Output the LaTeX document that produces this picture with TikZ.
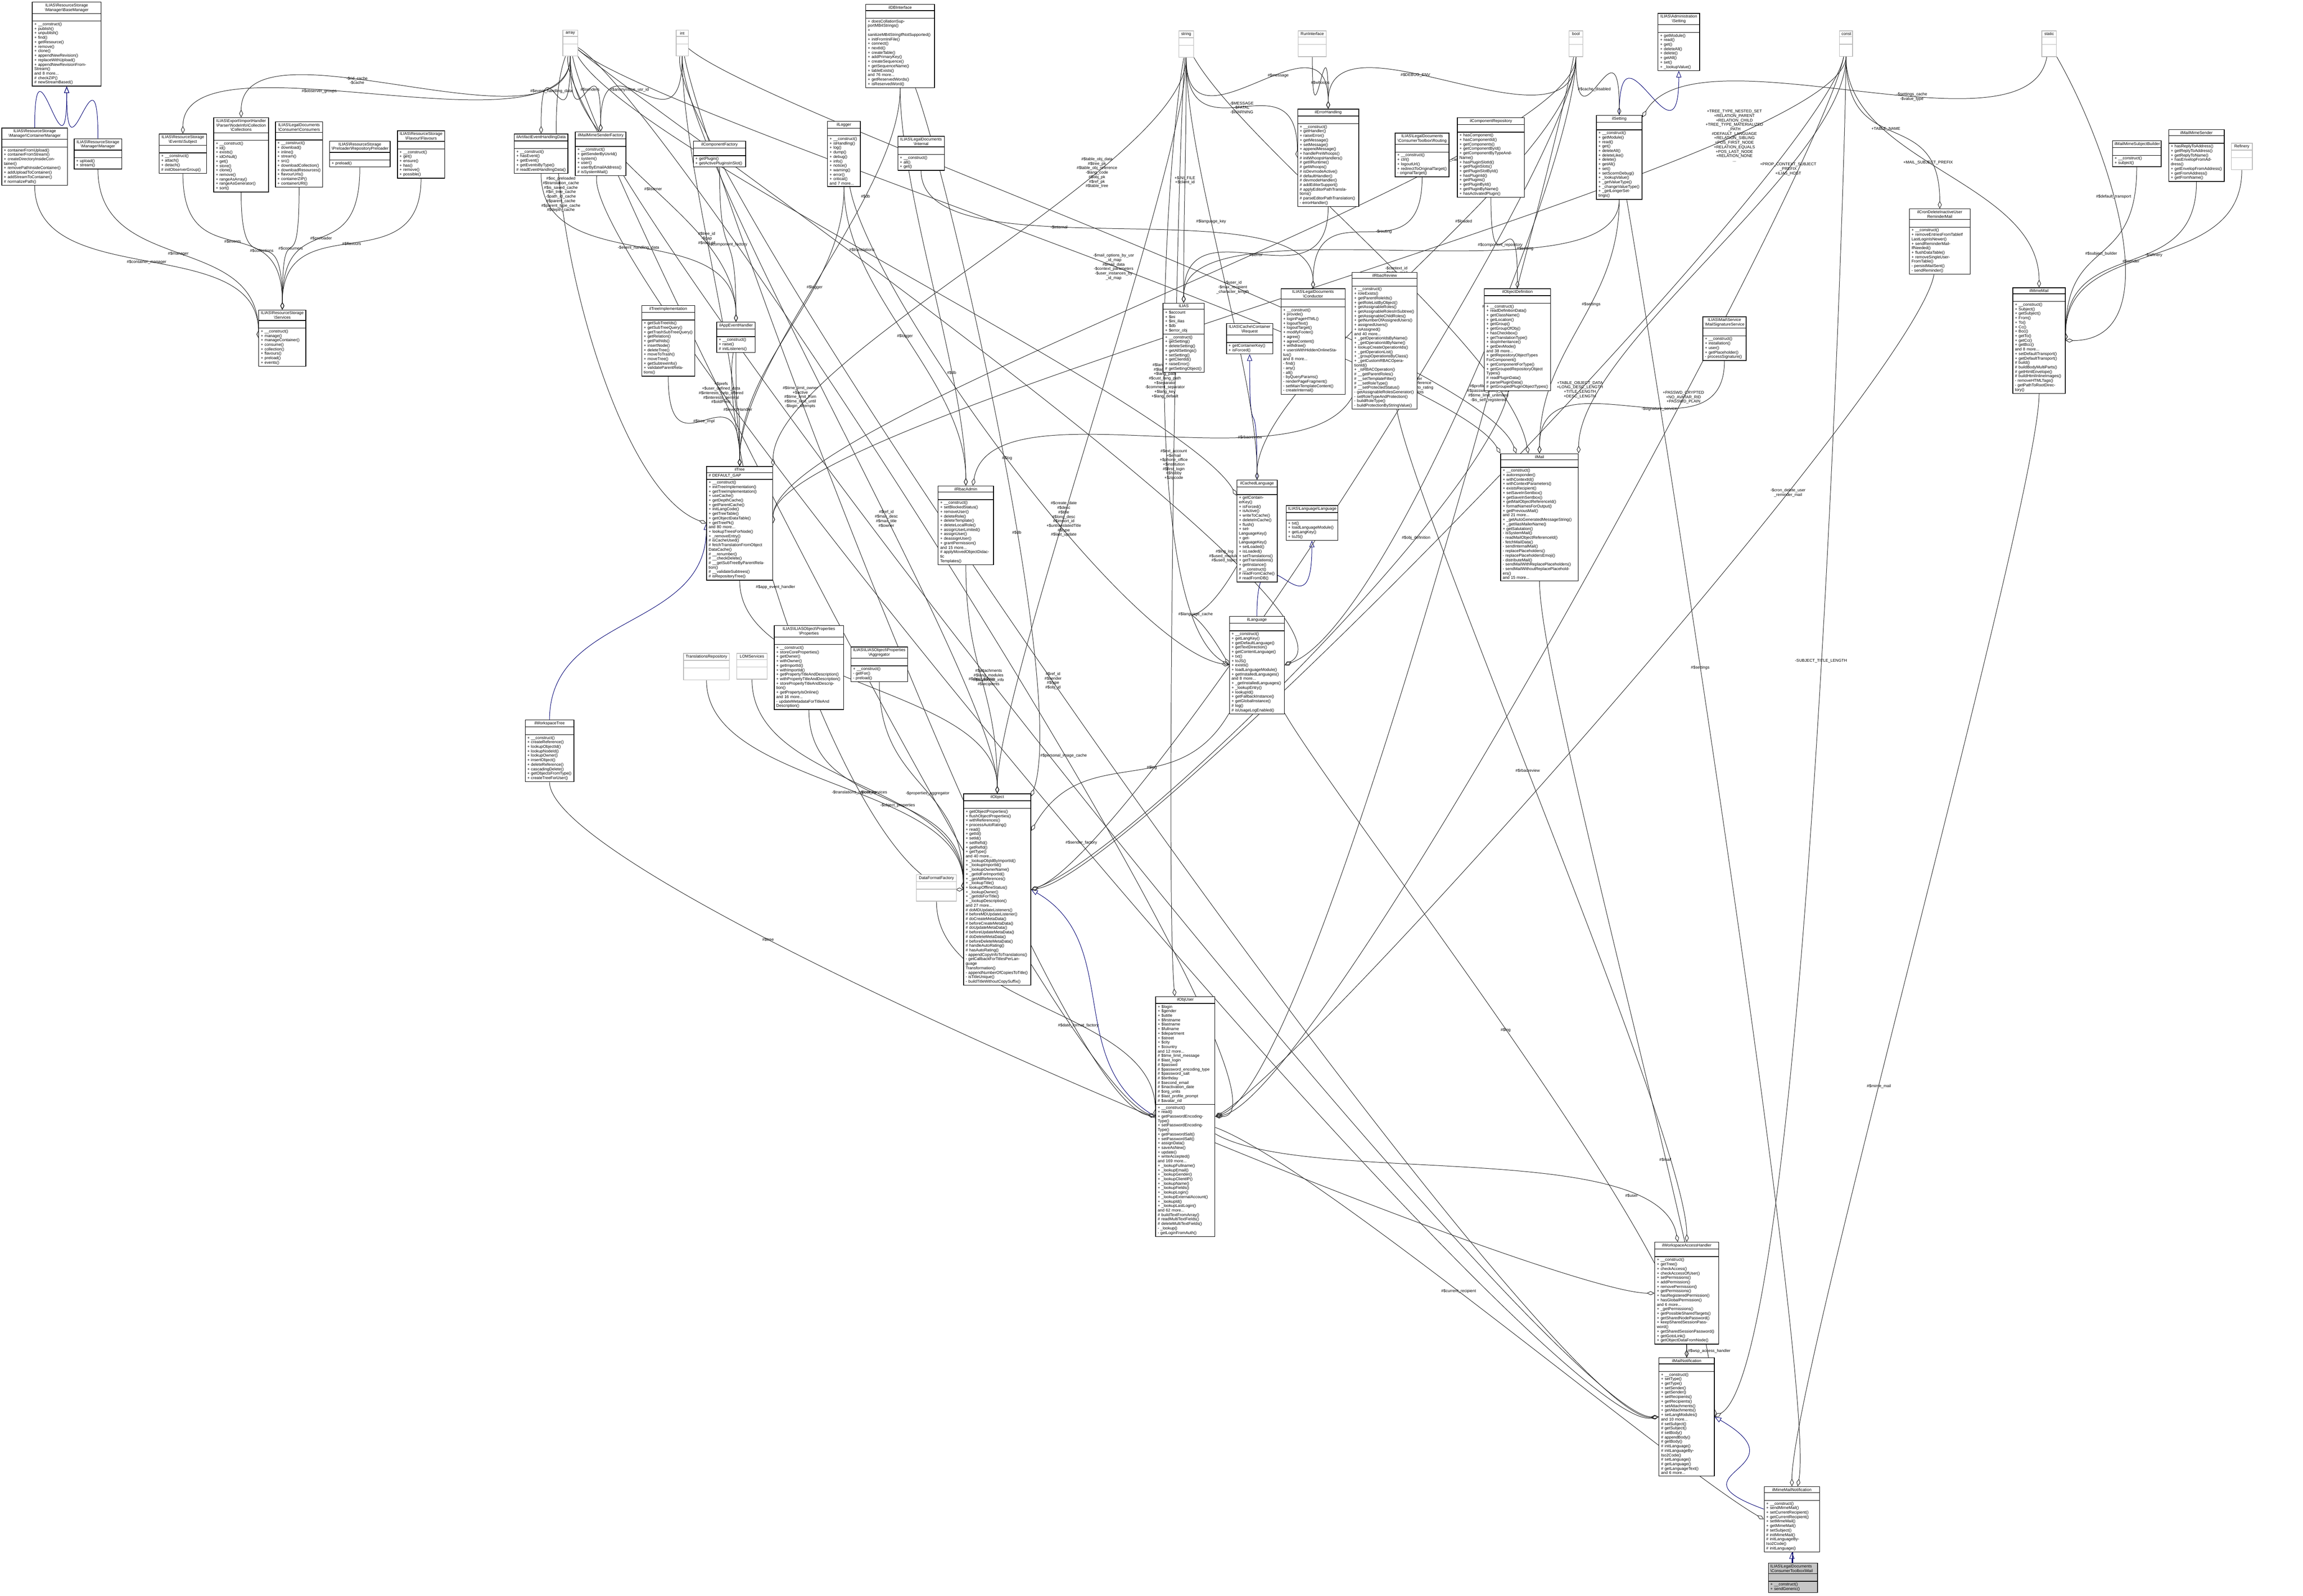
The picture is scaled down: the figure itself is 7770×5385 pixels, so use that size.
\documentclass[tikz,border=0pt]{standalone}
\usepackage{fontspec}
\setmainfont{Liberation Sans}
\usetikzlibrary{shapes.multipart,arrows.meta}
\pgfdeclarelayer{bg}
\pgfsetlayers{bg,main}
\newcommand{\umlsize}{\fontsize{0.975}{1.075}\selectfont}
\newcommand{\bsl}{\textbackslash{}}
\tikzset{
  umlcls/.style={draw, line width=0.15pt, fill=white, rectangle split, rectangle split parts=3,
    inner xsep=0.5pt, inner ysep=0.3pt, font=\umlsize, align=left},
  typecls/.style={umlcls, draw=gray!55},
  agg/.style={line width=0.11pt, draw=black!85, -{Diamond[open,length=0.065cm,width=0.033cm]}},
  inh/.style={line width=0.11pt, draw=blue!45!black, -{Triangle[open,length=0.055cm,width=0.043cm]}},
  lbl/.style={font=\umlsize, align=center, inner sep=0.25pt},
  vv/.style={out=-90, in=90},
  uu/.style={out=90, in=-90},
  every to/.append style={distance=0.9cm}
}
% class box: name, x, y (top), width, title, attributes, methods
\newcommand{\umlclass}[7]{%
  \pgfmathsetlengthmacro\clsw{(#4)*0.0025cm-1pt}%
  \node[umlcls, text width=\clsw, anchor=north west] (#1) at (#2,#3)
    {\centering #5\par\nodepart{second}#6\nodepart{third}#7};}
\newcommand{\umltype}[5]{%
  \pgfmathsetlengthmacro\clsw{(#4)*0.0025cm-1pt}%
  \node[typecls, text width=\clsw, anchor=north west] (#1) at (#2,#3)
    {\centering #5\par\nodepart{second}\strut\nodepart{third}\strut\\\strut};}

\begin{document}
\catcode`\_=12
\begin{tikzpicture}[x=0.0025cm, y=-0.0025cm]
\useasboundingbox (0,0) rectangle (7770,5385);

% primitive types
\umltype{arr}{1898}{101}{50}{array}
\umltype{int}{2280}{101}{41}{int}
\umltype{str}{3976}{103}{50}{string}
\umltype{run}{4379}{103}{95}{RunInterface}
\umltype{bool}{5293}{103}{46}{bool}
\umltype{cnst}{6205}{103}{44}{const}
\umltype{stat}{6888}{103}{49}{static}
\umltype{refi}{7527}{482}{71}{Refinery}
\umltype{trep}{2305}{2204}{155}{TranslationsRepository}
\umltype{lom}{2485}{2204}{102}{LOMServices}
\umltype{dff}{3091}{2951}{135}{DataFormatFactory}

% resource storage
\umlclass{bm}{108}{6}{232}{ILIAS\bsl ResourceStorage\\\bsl Manager\bsl BaseManager}{\strut}{+ __construct()\\+ publish()\\+ unpublish()\\+ find()\\+ getResource()\\+ remove()\\+ clone()\\+ appendNewRevision()\\+ replaceWithUpload()\\+ appendNewRevisionFromStream()\\and 8 more...\\\# checkZIP()\\\# newStreamBased()}
\umlclass{cm}{5}{431}{222}{ILIAS\bsl ResourceStorage\\\bsl Manager\bsl ContainerManager}{\strut}{+ containerFromUpload()\\+ containerFromStream()\\+ createDirectoryInsideContainer()\\+ removePathInsideContainer()\\+ addUploadToContainer()\\+ addStreamToContainer()\\\# normalizePath()}
\umlclass{mgr}{249}{467}{161}{ILIAS\bsl ResourceStorage\\\bsl Manager\bsl Manager}{\strut}{+ upload()\\+ stream()}
\umlclass{evs}{536}{451}{160}{ILIAS\bsl ResourceStorage\\\bsl Events\bsl Subject}{\strut}{+ __construct()\\+ attach()\\+ detach()\\\# initObserverGroup()}
\umlclass{coll}{720}{396}{185}{ILIAS\bsl Export\bsl ImportHandler\\\bsl Parser\bsl NodeInfo\bsl Collection\\\bsl Collections}{\strut}{+ __construct()\\+ id()\\+ exists()\\+ idOrNull()\\+ get()\\+ store()\\+ clone()\\+ remove()\\+ rangeAsArray()\\+ rangeAsGenerator()\\+ sort()}
\umlclass{cons}{928}{410}{160}{ILIAS\bsl LegalDocuments\\\bsl Consumer\bsl Consumers}{\strut}{+ __construct()\\+ download()\\+ inline()\\+ stream()\\+ src()\\+ downloadCollection()\\+ downloadResources()\\+ flavourUrls()\\+ containerZIP()\\+ containerURI()}
\umlclass{prel}{1111}{475}{204}{ILIAS\bsl ResourceStorage\\\bsl Preloader\bsl RepositoryPreloader}{\strut}{+ preload()}
\umlclass{flav}{1340}{440}{159}{ILIAS\bsl ResourceStorage\\\bsl Flavour\bsl Flavours}{\strut}{+ __construct()\\+ get()\\+ ensure()\\+ has()\\+ remove()\\+ possible()}
\umlclass{srv}{872}{1045}{159}{ILIAS\bsl ResourceStorage\\\bsl Services}{\strut}{+ __construct()\\+ manage()\\+ manageContainer()\\+ consume()\\+ collection()\\+ flavours()\\+ preload()\\+ events()}

% events, tree
\umlclass{aehd}{1734}{451}{181}{ilArtifactEventHandlingData}{\strut}{+ __construct()\\+ hasEvent()\\+ getEvent()\\+ getEventsByType()\\\# readEventHandlingData()}
\umlclass{msf}{1940}{444}{171}{ilMailMimeSenderFactory}{\strut}{+ __construct()\\+ getSenderByUsrId()\\+ system()\\+ user()\\+ userByEmailAddress()\\\# isSystemMail()}
\umlclass{cf}{2338}{475}{177}{ilComponentFactory}{\strut}{+ getPlugin()\\+ getActivePluginsInSlot()}
\umlclass{timpl}{2164}{1030}{179}{ilTreeImplementation}{\strut}{+ getSubTreeIds()\\+ getSubTreeQuery()\\+ getTrashSubTreeQuery()\\+ getRelation()\\+ getPathIds()\\+ insertNode()\\+ deleteTree()\\+ moveToTrash()\\+ moveTree()\\+ getSubtreeInfo()\\+ validateParentRelations()}
\umlclass{aeh}{2417}{1086}{130}{ilAppEventHandler}{\strut}{+ __construct()\\+ raise()\\\# initListeners()}
\umlclass{tree}{2383}{1573}{223}{ilTree}{\# DEFAULT_GAP}{+ __construct()\\+ initTreeImplementation()\\+ getTreeImplementation()\\+ useCache()\\+ getDepthCache()\\+ getParentCache()\\+ initLangCode()\\+ getTreeTable()\\+ getObjectDataTable()\\+ getTreePk()\\and 80 more...\\+ lookupTreesForNode()\\+ _removeEntry()\\\# isCacheUsed()\\\# fetchTranslationFromObject\\DataCache()\\\# __renumber()\\\# __checkDelete()\\\# __getSubTreeByParentRelation()\\\# __validateSubtrees()\\\# isRepositoryTree()}
\umlclass{wtree}{1771}{2429}{164}{ilWorkspaceTree}{\strut}{+ __construct()\\+ createReference()\\+ lookupObjectId()\\+ lookupNodeId()\\+ lookupOwner()\\+ insertObject()\\+ deleteReference()\\+ cascadingDelete()\\+ getObjectsFromType()\\+ createTreeForUser()}

% core services
\umlclass{db}{2920}{14}{232}{ilDBInterface}{\strut}{+ doesCollationSupportMB4Strings()\\+ sanitizeMB4StringIfNotSupported()\\+ initFromIniFile()\\+ connect()\\+ nextId()\\+ createTable()\\+ addPrimaryKey()\\+ createSequence()\\+ getSequenceName()\\+ tableExists()\\and 76 more...\\+ getReservedWords()\\+ isReservedWord()}
\umlclass{log}{2791}{408}{111}{ilLogger}{\strut}{+ __construct()\\+ isHandling()\\+ log()\\+ dump()\\+ debug()\\+ info()\\+ notice()\\+ warning()\\+ error()\\+ critical()\\and 7 more...}
\umlclass{ldi}{3028}{459}{157}{ILIAS\bsl LegalDocuments\\\bsl Internal}{\strut}{+ __construct()\\+ all()\\+ get()}
\umlclass{err}{4377}{367}{206}{ilErrorHandling}{\strut}{+ __construct()\\+ getHandler()\\+ raiseError()\\+ getMessage()\\+ setMessage()\\+ appendMessage()\\+ handlePreWhoops()\\\# initWhoopsHandlers()\\\# getIlRuntime()\\\# getWhoops()\\\# isDevmodeActive()\\\# defaultHandler()\\\# devmodeHandler()\\\# addEditorSupport()\\\# applyEditorPathTranslations()\\\# parseEditorPathTranslation()\\- errorHandler()}
\umlclass{rout}{4706}{448}{182}{ILIAS\bsl LegalDocuments\\\bsl ConsumerToolbox\bsl Routing}{\strut}{+ __construct()\\+ ctrl()\\+ logoutUrl()\\+ redirectToOriginalTarget()\\- originalTarget()}
\umlclass{crep}{4916}{396}{226}{ilComponentRepository}{\strut}{+ hasComponent()\\+ hasComponentId()\\+ getComponents()\\+ getComponentById()\\+ getComponentByTypeAndName()\\+ hasPluginSlotId()\\+ getPluginSlots()\\+ getPluginSlotById()\\+ hasPluginId()\\+ getPlugins()\\+ getPluginById()\\+ getPluginByName()\\+ hasActivatedPlugin()}
\umlclass{ilias}{3923}{1022}{139}{ILIAS}{+ \$account\\+ \$ini\\+ \$ini_ilias\\+ \$db\\+ \$error_obj}{+ __construct()\\+ getSetting()\\+ deleteSetting()\\+ getAllSettings()\\+ setSetting()\\+ getClientId()\\+ raiseError()\\\# getSettingObject()}
\umlclass{creq}{4137}{1091}{156}{ILIAS\bsl Cache\bsl Container\\\bsl Request}{\strut}{+ getContainerKey()\\+ isForced()}
\umlclass{cond}{4321}{973}{216}{ILIAS\bsl LegalDocuments\\\bsl Conductor}{\strut}{+ __construct()\\+ provide()\\+ loginPageHTML()\\+ logoutText()\\+ logoutTarget()\\+ modifyFooter()\\+ agree()\\+ agreeContent()\\+ withdraw()\\+ usersWithHiddenOnlineStatus()\\and 8 more...\\- find()\\- any()\\- all()\\- byQueryParams()\\- renderPageFragment()\\- setMainTemplateContent()\\- createInternal()}
\umlclass{rrev}{4561}{918}{219}{ilRbacReview}{\strut}{+ __construct()\\+ roleExists()\\+ getParentRoleIds()\\+ getRoleListByObject()\\+ getAssignableRoles()\\+ getAssignableRolesInSubtree()\\+ getAssignableChildRoles()\\+ getNumberOfAssignedUsers()\\+ assignedUsers()\\+ isAssigned()\\and 40 more...\\+ _getOperationIdsByName()\\+ _getOperationIdByName()\\+ lookupCreateOperationIds()\\+ _getOperationList()\\+ _groupOperationsByClass()\\+ _getCustomRBACOperationId()\\+ _isRBACOperation()\\\# __getParentRoles()\\\# __setTemplateFilter()\\\# __setRoleType()\\\# __setProtectedStatus()\\- getAssignableRolesGenerator()\\- setRoleTypeAndProtection()\\- buildRoleType()\\- buildProtectionByStringValue()}
\umlclass{odef}{5007}{973}{223}{ilObjectDefinition}{\strut}{+ __construct()\\+ readDefinitionData()\\+ getClassName()\\+ getLocation()\\+ getGroup()\\+ getGroupOfObj()\\+ hasCheckbox()\\+ getTranslationType()\\+ stopInheritance()\\+ getDevMode()\\and 38 more...\\+ getRepositoryObjectTypes\\ForComponent()\\+ getComponentForType()\\+ getGroupedRepositoryObject\\Types()\\\# readPluginData()\\\# parsePluginData()\\\# getGroupedPluginObjectTypes()}
\umlclass{radm}{3164}{1639}{187}{ilRbacAdmin}{\strut}{+ __construct()\\+ setBlockedStatus()\\+ removeUser()\\+ deleteRole()\\+ deleteTemplate()\\+ deleteLocalRole()\\+ assignUserLimited()\\+ assignUser()\\+ deassignUser()\\+ grantPermission()\\and 15 more...\\\# applyMovedObjectDidactic\\Templates()}
\umlclass{clang}{4172}{1619}{136}{ilCachedLanguage}{\strut}{+ getContainerKey()\\+ isForced()\\+ isActive()\\+ writeToCache()\\+ deleteInCache()\\+ flush()\\+ setLanguageKey()\\+ getLanguageKey()\\+ setLoaded()\\+ isLoaded()\\+ setTranslations()\\+ getTranslations()\\+ getInstance()\\\# __construct()\\\# readFromCache()\\\# readFromDB()}
\umlclass{llang}{4338}{1705}{174}{ILIAS\bsl Language\bsl Language}{\strut}{+ txt()\\+ loadLanguageModule()\\+ getLangKey()\\+ toJS()}
\umlclass{lang}{4147}{2079}{185}{ilLanguage}{\strut}{+ __construct()\\+ getLangKey()\\+ getDefaultLanguage()\\+ getTextDirection()\\+ getContentLanguage()\\+ txt()\\+ toJS()\\+ exists()\\+ loadLanguageModule()\\+ getInstalledLanguages()\\and 8 more...\\+ _getInstalledLanguages()\\+ _lookupEntry()\\+ lookupId()\\+ getFallbackInstance()\\+ getGlobalInstance()\\\# log()\\\# isUsageLogEnabled()}

% mail and settings
\umlclass{mail}{5062}{1530}{262}{ilMail}{\strut}{+ __construct()\\+ autoresponder()\\+ withContextId()\\+ withContextParameters()\\+ existsRecipient()\\+ setSaveInSentbox()\\+ getSaveInSentbox()\\+ getMailObjectReferenceId()\\+ formatNamesForOutput()\\+ getPreviousMail()\\and 21 more...\\+ _getAutoGeneratedMessageString()\\+ _getIliasMailerName()\\+ getSalutation()\\- isSystemMail()\\- readMailObjectReferenceId()\\- fetchMailData()\\- sendInternalMail()\\- replacePlaceholders()\\- replacePlaceholdersEmoji()\\- distributeMail()\\- sendMailWithReplacePlaceholders()\\- sendMailWithoutReplacePlaceholders()\\and 15 more...}
\umlclass{aset}{5593}{44}{140}{ILIAS\bsl Administration\\\bsl Setting}{\strut}{+ getModule()\\+ read()\\+ get()\\+ deleteAll()\\+ delete()\\+ getAll()\\+ set()\\+ _lookupValue()}
\umlclass{set}{5385}{388}{154}{ilSetting}{\strut}{+ __construct()\\+ getModule()\\+ read()\\+ get()\\+ deleteAll()\\+ deleteLike()\\+ delete()\\+ getAll()\\+ set()\\+ setScormDebug()\\+ _lookupValue()\\+ _getValueType()\\+ _changeValueType()\\+ _getLongerSettings()}
\umlclass{cron}{6441}{704}{205}{ilCronDeleteInactiveUser\\ReminderMail}{\strut}{+ __construct()\\+ removeEntriesFromTableIf\\LastLoginIsNewer()\\+ sendReminderMailIfNeeded()\\+ flushDataTable()\\+ removeSingleUserFromTable()\\- persistMailSent()\\- sendReminder()}
\umlclass{msig}{5744}{1068}{146}{ILIAS\bsl Mail\bsl Service\\\bsl MailSignatureService}{\strut}{+ __construct()\\+ installation()\\+ user()\\+ getPlaceholder()\\- processSignature()}
\umlclass{msb}{7126}{474}{164}{ilMailMimeSubjectBuilder}{\strut}{+ __construct()\\+ subject()}
\umlclass{mms}{7316}{436}{187}{ilMailMimeSender}{\strut}{+ hasReplyToAddress()\\+ getReplyToAddress()\\+ getReplyToName()\\+ hasEnvelopFromAddress()\\+ getEnvelopFromAddress()\\+ getFromAddress()\\+ getFromName()}
\umlclass{mime}{6790}{970}{177}{ilMimeMail}{\strut}{+ __construct()\\+ Subject()\\+ getSubject()\\+ From()\\+ To()\\+ Cc()\\+ Bcc()\\+ getTo()\\+ getCc()\\+ getBcc()\\and 8 more...\\+ setDefaultTransport()\\+ getDefaultTransport()\\\# build()\\\# buildBodyMultiParts()\\\# getHtmlEnvelope()\\\# buildHtmlInlineImages()\\- removeHTMLTags()\\- getPathToRootDirectory()}

% objects
\umlclass{prop}{2611}{2110}{234}{ILIAS\bsl ILIASObject\bsl Properties\\\bsl Properties}{\strut}{+ __construct()\\+ storeCoreProperties()\\+ getOwner()\\+ withOwner()\\+ getImportId()\\+ withImportId()\\+ getPropertyTitleAndDescription()\\+ withPropertyTitleAndDescription()\\+ storePropertyTitleAndDescription()\\+ getPropertyIsOnline()\\and 16 more...\\- updateMetadataForTitleAnd\\Description()}
\umlclass{aggr}{2870}{2182}{191}{ILIAS\bsl ILIASObject\bsl Properties\\\bsl Aggregator}{\strut}{+ __construct()\\- getFor()\\- preload()}
\umlclass{obj}{3250}{2678}{227}{ilObject}{\strut}{+ getObjectProperties()\\+ flushObjectProperties()\\+ withReferences()\\+ processAutoRating()\\+ read()\\+ getId()\\+ setId()\\+ setRefId()\\+ getRefId()\\+ getType()\\and 40 more...\\+ _lookupObjIdByImportId()\\+ _lookupImportId()\\+ _lookupOwnerName()\\+ _getIdForImportId()\\+ _getAllReferences()\\+ _lookupTitle()\\+ lookupOfflineStatus()\\+ _lookupOwner()\\+ _getIdsForTitle()\\+ _lookupDescription()\\and 27 more...\\\# doMDUpdateListeners()\\\# beforeMDUpdateListener()\\\# doCreateMetaData()\\\# beforeCreateMetaData()\\\# doUpdateMetaData()\\\# beforeUpdateMetaData()\\\# doDeleteMetaData()\\\# beforeDeleteMetaData()\\\# handleAutoRating()\\\# hasAutoRating()\\- appendCopyInfoToTranslations()\\- getCallbackForTitlesPerLanguage\\Transformation()\\- appendNumberOfCopiesToTitle()\\- isTitleUnique()\\- buildTitleWithoutCopySuffix()}
\umlclass{user}{3898}{3362}{200}{ilObjUser}{+ \$login\\+ \$gender\\+ \$utitle\\+ \$firstname\\+ \$lastname\\+ \$fullname\\+ \$department\\+ \$street\\+ \$city\\+ \$country\\and 12 more...\\\# \$time_limit_message\\\# \$last_login\\\# \$passwd\\\# \$password_encoding_type\\\# \$password_salt\\\# \$birthday\\\# \$second_email\\\# \$inactivation_date\\\# \$org_units\\\# \$last_profile_prompt\\\# \$avatar_rid}{+ __construct()\\+ read()\\+ getPasswordEncodingType()\\+ setPasswordEncodingType()\\+ getPasswordSalt()\\+ setPasswordSalt()\\+ assignData()\\+ saveAsNew()\\+ update()\\+ writeAccepted()\\and 169 more...\\+ _lookupFullname()\\+ _lookupEmail()\\+ _lookupGender()\\+ _lookupClientIP()\\+ _lookupName()\\+ _lookupFields()\\+ _lookupLogin()\\+ _lookupExternalAccount()\\+ _lookupId()\\+ _lookupLastLogin()\\and 62 more...\\\# buildTextFromArray()\\\# readMultiTextFields()\\\# deleteMultiTextFields()\\- _lookup()\\- getLoginFromAuth()}
\umlclass{wah}{5582}{4191}{216}{ilWorkspaceAccessHandler}{\strut}{+ __construct()\\+ getTree()\\+ checkAccess()\\+ checkAccessOfUser()\\+ setPermissions()\\+ addPermission()\\+ removePermission()\\+ getPermissions()\\+ hasRegisteredPermission()\\+ hasGlobalPermission()\\and 6 more...\\+ _getPermissions()\\+ getPossibleSharedTargets()\\+ getSharedNodePassword()\\+ keepSharedSessionPassword()\\+ getSharedSessionPassword()\\+ getGotoLink()\\+ getObjectDataFromNode()}
\umlclass{mn}{5596}{4581}{187}{ilMailNotification}{\strut}{+ __construct()\\+ setType()\\+ getType()\\+ setSender()\\+ getSender()\\+ setRecipients()\\+ getRecipients()\\+ setAttachments()\\+ getAttachments()\\+ setLangModules()\\and 10 more...\\\# setSubject()\\\# getSubject()\\\# setBody()\\\# appendBody()\\\# getBody()\\\# initLanguage()\\\# initLanguageByIso2Code()\\\# setLanguage()\\\# getLanguage()\\\# getLanguageText()\\and 6 more...}
\umlclass{mmn}{5951}{5016}{187}{ilMimeMailNotification}{\strut}{+ __construct()\\+ sendMimeMail()\\+ setCurrentRecipient()\\+ getCurrentRecipient()\\+ setMimeMail()\\+ getMimeMail()\\\# setSubject()\\\# initMimeMail()\\\# initLanguageByIso2Code()\\\# initLanguage()}
\node[umlcls, fill=gray!45, text width=0.38cm, anchor=north west] (ldmail) at (5965,5274)
  {ILIAS\bsl LegalDocuments\\\bsl ConsumerToolbox\bsl Mail\nodepart{second}\strut\nodepart{third}+ __construct()\\+ sendGeneric()};

\begin{pgfonlayer}{bg}
% inheritance
\draw[inh] (cm) to[uu] (bm);
\draw[inh] (mgr) to[uu] (bm);
\draw[inh] (clang) to[uu] (creq);
\draw[inh] (lang) to[uu] (llang);
\draw[inh] (set) to[uu] (aset);
\draw[inh] (wtree) to[uu] (tree.west);
\draw[inh] (user.west) to[out=150, in=-30] (obj.east);
\draw[inh] (mmn) to[out=160, in=-30] (mn.east);
\draw[inh] (ldmail) to[uu] (mmn);
% resource storage
\draw[agg] (cm) to[vv] node[lbl]{\#\$container_manager} (srv.west);
\draw[agg] (mgr) to[vv] node[lbl]{\#\$manager} (srv.west);
\draw[agg] (evs) to[vv] node[lbl]{\#\$events} (srv);
\draw[agg] (coll) to[vv] node[lbl]{\#\$collections} (srv);
\draw[agg] (cons) to[vv] node[lbl]{\#\$consumers} (srv);
\draw[agg] (prel) to[vv] node[lbl]{\#\$preloader} (srv);
\draw[agg] (flav) to[vv] node[lbl]{\#\$flavours} (srv);
\draw[agg] (arr) to[vv] node[lbl, pos=0.6]{\#\$observer_groups} (evs);
\draw[agg] (arr) to[vv] node[lbl, pos=0.6]{-\$rid_cache\\-\$cache} (coll);
% events and tree
\draw[agg] (arr) to[vv] node[lbl, pos=0.6]{\#\$event_handling_data} (aehd);
\draw[agg] (arr) to[vv] node[lbl, pos=0.6]{\#\$senders} (msf);
\draw[agg] (int) to[vv] node[lbl, pos=0.6]{\#\$anonymous_usr_id} (msf);
\draw[agg] (arr) to[out=-110, in=160] node[lbl, pos=0.3]{\#\$oc_preloaded\\\#\$translation_cache\\\#\$is_saved_cache\\\#\$in_tree_cache\\-\$path_id_cache\\\#\$parent_cache\\\#\$parent_type_cache\\\#\$depth_cache} (tree.west);
\draw[agg] (aehd) to[vv] node[lbl]{-\$event_handling_data} (aeh);
\draw[agg] (cf) to[vv] node[lbl]{\#\$component_factory} (aeh);
\draw[agg] (arr) to[vv] node[lbl, pos=0.5]{\#\$listener} (aeh);
\draw[agg] (timpl) to[vv] node[lbl]{\#\$tree_impl} (tree);
\draw[agg] (aeh) to[vv] node[lbl]{\#\$eventHandler} (tree);
\draw[agg] (int) to[vv] node[lbl, pos=0.45]{\#\$tree_id\\-\$gap\\\#\$root_id} (tree);
\draw[agg] (log) to[vv] node[lbl, pos=0.35]{\#\$logger} (tree);
\draw[agg] (db) to[vv] node[lbl, pos=0.3]{\#\$db} (tree);
\draw[agg] (str) to[vv] node[lbl, pos=0.3]{\#\$table_obj_data\\\#\$tree_pk\\\#\$table_obj_reference\\-\$lang_code\\\#\$obj_pk\\\#\$ref_pk\\\#\$table_tree} (tree.north east);
\draw[agg] (cnst) to[vv] node[lbl, pos=0.2]{+TREE_TYPE_NESTED_SET\\+RELATION_PARENT\\+RELATION_CHILD\\+TREE_TYPE_MATERIALIZED\\_PATH\\\#DEFAULT_LANGUAGE\\+RELATION_SIBLING\\+POS_FIRST_NODE\\+RELATION_EQUALS\\+POS_LAST_NODE\\+RELATION_NONE\\...} (tree.east);
\draw[agg] (bool) to[vv] node[lbl, pos=0.25]{\#\$use_cache} (tree.east);
% core
\draw[agg] (str) to[vv] node[lbl]{+\$INI_FILE\\+\$client_id} (ilias);
\draw[agg] (err) to[vv] node[lbl]{\#\$error} (ilias);
\draw[agg] (set) to[vv] node[lbl, pos=0.3]{\#\$setting} (ilias);
\draw[agg] (run) to[vv] node[lbl]{\#\$whoops} (err);
\draw[agg] (str) to[vv] node[lbl]{-\$MESSAGE\\-\$FATAL\\-\$WARNING} (err.west);
\draw[agg] (str) to[vv] node[lbl, pos=0.6]{\#\$message} (err);
\draw[agg] (bool) to[vv] node[lbl, pos=0.6]{\#\$DEBUG_ENV} (err);
\draw[agg] (ldi) to[vv] node[lbl, pos=0.4]{-\$internal} (cond);
\draw[agg] (rout) to[vv] node[lbl, pos=0.4]{-\$routing} (cond);
\draw[agg] (crep) to[vv] node[lbl, pos=0.4]{\#\$component_repository} (odef);
\draw[agg] (str) to[vv] node[lbl, pos=0.4]{\#\$language_key} (clang);
\draw[agg] (arr) to[out=-60, in=120] node[lbl, pos=0.45]{\#\$translations} (clang);
\draw[agg] (bool) to[vv] node[lbl, pos=0.4]{\#\$loaded} (clang);
\draw[agg] (clang) to[out=-120, in=120] node[lbl, pos=0.4]{\#\$language_cache} (lang.west);
\draw[agg] (str) to[out=-100, in=150] node[lbl, pos=0.5]{\#\$lang_name\\\#\$lang_user\\+\$lang_path\\\#\$cust_lang_path\\+\$separator\\-\$comment_separator\\+\$lang_key\\+\$lang_default} (lang.west);
\draw[agg] (log) to[out=-80, in=170] node[lbl, pos=0.5]{\#\$log} (lang.west);
\draw[agg] (arr) to[out=-40, in=30] node[lbl, pos=0.75]{\#\$lng_log\\\#\$used_modules\\\#\$used_topics} (lang.east);
\draw[agg] (bool) to[out=-90, in=20] node[lbl, pos=0.4]{\#\$usage_log_enabled} (lang.east);
\draw[agg] (db) to[vv] node[lbl, pos=0.7]{\#\$db} (radm);
\draw[agg] (log) to[vv] node[lbl, pos=0.5]{\#\$logger} (radm);
\draw[agg] (rrev) to[out=-120, in=80] node[lbl, pos=0.3]{\#\$rbacreview} (radm);
% objects
\draw[agg] (int) to[vv] node[lbl, pos=0.6]{\#\$ref_id\\\#\$max_desc\\\#\$max_title\\\#\$owner} (obj);
\draw[agg] (str) to[vv] node[lbl, pos=0.6]{\#\$create_date\\\#\$desc\\\#\$title\\\#\$long_desc\\\#\$import_id\\+\$untranslatedTitle\\\#\$type\\\#\$last_update} (obj);
\draw[agg] (cnst) to[out=-100, in=10] node[lbl, pos=0.4]{+TABLE_OBJECT_DATA\\+LONG_DESC_LENGTH\\+TITLE_LENGTH\\+DESC_LENGTH} (obj.east);
\draw[agg] (bool) to[out=-90, in=20] node[lbl, pos=0.4]{\#\$register\\\#\$call_by_reference\\-\$process_auto_rating\\\#\$add_dots} (obj.east);
\draw[agg] (trep) to[vv] node[lbl, pos=0.55]{-\$translations_repository} (obj.west);
\draw[agg] (lom) to[vv] node[lbl, pos=0.55]{-\$lom_services} (obj.west);
\draw[agg] (prop) to[vv] node[lbl, pos=0.55]{-\$object_properties} (obj.west);
\draw[agg] (aggr) to[vv] node[lbl, pos=0.55]{-\$properties_aggregator} (obj.west);
\draw[agg] (tree) to[vv] node[lbl, pos=0.4]{\#\$tree} (obj);
\draw[agg] (radm) to[vv] node[lbl, pos=0.5]{\#\$rbac_admin} (obj);
\draw[agg] (aeh) to[out=-100, in=180] node[lbl, pos=0.4]{\#\$app_event_handler} (obj.west);
\draw[agg] (lang) to[out=-120, in=60] node[lbl, pos=0.4]{\#\$lng} (obj);
\draw[agg] (db) to[out=-70, in=70] node[lbl, pos=0.6]{\#\$db} (obj);
\draw[agg] (odef) to[out=-100, in=20] node[lbl, pos=0.3]{\#\$obj_definition} (obj.east);
\draw[agg] (dff) to[vv] node[lbl, pos=0.6]{\#\$date_format_factory} (user.west);
\draw[agg] (arr) to[out=-80, in=160] node[lbl, pos=0.35]{+\$prefs\\+\$user_defined_data\\\#\$interests_help_offered\\\#\$interests_general\\\#\$oldPrefs} (user.west);
\draw[agg] (int) to[out=-80, in=170] node[lbl, pos=0.35]{\#\$time_limit_owner\\+\$active\\\#\$time_limit_from\\\#\$time_limit_until\\-\$login_attempts} (user.west);
\draw[agg] (str) to[out=-95, in=95] node[lbl, pos=0.45]{\#\$ext_account\\+\$email\\+\$phone_office\\+\$institution\\\#\$first_login\\+\$hobby\\+\$zipcode} (user);
\draw[agg] (bool) to[out=-100, in=20] node[lbl, pos=0.35]{\#\$profile_incomplete\\\#\$passwd_policy_reset\\\#\$time_limit_unlimited\\-\$is_self_registered} (user.east);
\draw[agg] (cnst) to[out=-100, in=10] node[lbl, pos=0.35]{+PASSWD_CRYPTED\\+NO_AVATAR_RID\\+PASSWD_PLAIN} (user.east);
\draw[agg] (arr) to[out=-30, in=0] node[lbl, pos=0.6]{\#\$personal_image_cache} (user.east);
\draw[agg] (cron) to[out=-100, in=30] node[lbl, pos=0.3]{-\$cron_delete_user\\_reminder_mail} (user.east);
% workspace and notifications
\draw[agg] (wtree) to[out=-90, in=180] node[lbl, pos=0.3]{\#\$tree} (wah.west);
\draw[agg] (user) to[out=-30, in=100] node[lbl, pos=0.8]{\#\$user} (wah);
\draw[agg] (rrev) to[out=-80, in=90] node[lbl, pos=0.45]{\#\$rbacreview} (wah);
\draw[agg] (wah) to[vv] node[lbl, right]{\#\$wsp_access_handler} (mn);
\draw[agg] (arr) to[out=-100, in=180] node[lbl, pos=0.45]{\#\$attachments\\\#\$lang_modules\\\#\$additional_info\\\#\$recipients} (mn.west);
\draw[agg] (int) to[out=-100, in=185] node[lbl, pos=0.45]{\#\$ref_id\\\#\$sender\\\#\$type\\\#\$obj_id} (mn.west);
\draw[agg] (msf) to[out=-100, in=190] node[lbl, pos=0.5]{\#\$sender_factory} (mn.west);
\draw[agg] (lang) to[out=-60, in=90] node[lbl, pos=0.5]{\#\$lng} (mn);
\draw[agg] (mail) to[vv] node[lbl, pos=0.65]{\#\$mail} (mn.east);
\draw[agg] (cnst) to[out=-90, in=30] node[lbl, pos=0.45]{-SUBJECT_TITLE_LENGTH} (mn.east);
\draw[agg] (set) to[out=-80, in=80] node[lbl, pos=0.4]{\#\$settings} (mmn);
\draw[agg] (user) to[out=-20, in=150] node[lbl, pos=0.45]{\#\$current_recipient} (mmn.west);
\draw[agg] (mime) to[vv] node[lbl, pos=0.6]{\#\$mime_mail} (mmn);
% mail
\draw[agg] (msb) to[vv] node[lbl]{\#\$subject_builder} (mime.east);
\draw[agg] (mms) to[vv] node[lbl]{\#\$sender} (mime.east);
\draw[agg] (refi) to[vv] node[lbl]{-\$refinery} (mime.east);
\draw[agg] (stat) to[out=-60, in=0] node[lbl, pos=0.4]{\#\$default_transport} (mime.east);
\draw[agg] (cnst) to[vv] node[lbl, pos=0.45]{+MAIL_SUBJECT_PREFIX} (mime);
\draw[agg] (stat) to[out=-100, in=60] node[lbl, pos=0.4]{-\$settings_cache\\-\$value_type} (set);
\draw[agg] (bool) to[vv] node[lbl, pos=0.45]{\#\$cache_disabled} (set);
\draw[agg] (cnst) to[vv] node[lbl, pos=0.45]{+TABLE_NAME} (cron);
\draw[agg] (set) to[vv] node[lbl, pos=0.4]{\#\$settings} (mail);
\draw[agg] (msig) to[vv] node[lbl, pos=0.4]{-\$signature_service} (mail);
\draw[agg] (cnst) to[vv] node[lbl, pos=0.3]{+PROP_CONTEXT_SUBJECT\\_PREFIX\\+ILIAS_HOST} (mail.north east);
\draw[agg] (arr) to[out=-40, in=120] node[lbl, pos=0.55]{-\$mail_options_by_usr\\_id_map\\\#\$mail_data\\-\$context_parameters\\-\$user_instances_by\\_id_map} (mail.north west);
\draw[agg] (int) to[out=-40, in=110] node[lbl, pos=0.6]{+\$user_id\\-\$max_recipient\\_character_length} (mail);
\draw[agg] (str) to[out=-60, in=100] node[lbl, pos=0.55]{-\$context_id\\-\$table_mail\\-\$table_mail_saved} (mail);
\end{pgfonlayer}
\end{tikzpicture}
\end{document}
